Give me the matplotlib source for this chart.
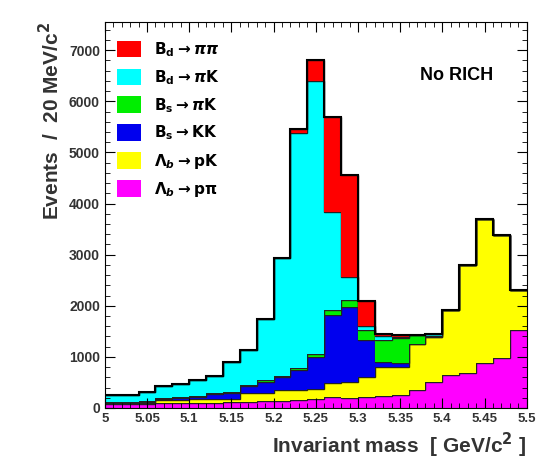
import numpy as np
import matplotlib.pyplot as plt
from matplotlib.ticker import MultipleLocator

plt.rcParams['font.family'] = ['Liberation Sans', 'DejaVu Sans']
plt.rcParams['font.weight'] = 'bold'

edges = np.round(np.arange(5.0, 5.5001, 0.02), 2)

lb_ppi = [80, 80, 80, 90, 90, 100, 100, 110, 120, 130, 140, 150, 170, 220, 200, 220, 230, 250, 350, 515, 650, 680, 880, 980, 1530]
lb_pk = [10, 10, 20, 60, 60, 70, 70, 70, 170, 160, 210, 200, 210, 270, 315, 390, 580, 560, 900, 865, 1270, 2120, 2810, 2410, 770]
bs_kk = [20, 20, 20, 30, 40, 50, 100, 120, 130, 225, 250, 395, 620, 1330, 1465, 720, 95, 60, 0, 0, 0, 0, 0, 0, 0]
bs_pik = [15, 15, 20, 20, 20, 20, 20, 20, 20, 25, 30, 35, 50, 100, 130, 200, 425, 500, 180, 20, 0, 0, 0, 0, 0]
bd_pik = [125, 125, 180, 220, 260, 310, 330, 580, 690, 1210, 2300, 4600, 5350, 1920, 460, 80, 70, 20, 0, 50, 0, 0, 0, 0, 0]
bd_pipi = [0, 0, 0, 0, 0, 0, 0, 0, 0, 0, 0, 70, 400, 1860, 1980, 490, 50, 40, 0, 0, 0, 0, 0, 0, 0]

series = [lb_ppi, lb_pk, bs_kk, bs_pik, bd_pik, bd_pipi]
colors = ['#ff00ff', '#ffff00', '#0000ee', '#00ee00', '#00ffff', '#ff0000']
labels = [r'$\Lambda_b \rightarrow \mathbf{p\pi}$', r'$\Lambda_b \rightarrow \mathbf{pK}$',
          r'$\mathbf{B_s} \rightarrow \mathbf{KK}$', r'$\mathbf{B_s} \rightarrow \pi\mathbf{K}$',
          r'$\mathbf{B_d} \rightarrow \pi\mathbf{K}$', r'$\mathbf{B_d} \rightarrow \pi\pi$']

fig = plt.figure(figsize=(5.43, 4.62), dpi=100)
ax = fig.add_axes([0.193, 0.117, 0.777, 0.835])

base = np.zeros(len(lb_ppi))
handles = []
for vals, c, lab in zip(series, colors, labels):
    top = base + np.array(vals)
    h = ax.stairs(top, edges, baseline=base, fill=True, color=c, label=lab)
    ax.stairs(top, edges, baseline=None, color='#222222', lw=1.0)
    handles.append(h)
    base = top
ax.stairs(base, edges, baseline=None, color='black', lw=1.5)

ax.set_xlim(5.0, 5.5)
ax.set_ylim(0, 7550)
ax.set_xticks(np.round(np.arange(5.0, 5.501, 0.05), 2))
ax.set_xticklabels(['5', '5.05', '5.1', '5.15', '5.2', '5.25', '5.3', '5.35', '5.4', '5.45', '5.5'])
ax.yaxis.set_major_locator(MultipleLocator(1000))
ax.yaxis.set_minor_locator(MultipleLocator(200))
ax.xaxis.set_minor_locator(MultipleLocator(0.01))
ax.tick_params(which='both', direction='in', top=True, right=True, labelsize=10)
ax.tick_params(which='major', length=7)
ax.tick_params(which='minor', length=3.5)
ax.tick_params(axis='x', labelsize=9.5)
for lbl in ax.get_xticklabels() + ax.get_yticklabels():
    lbl.set_fontweight('bold')
    lbl.set_color('#333333')

ax.set_xlabel(r'Invariant mass  [ GeV/c$^{\mathbf{2}}$ ]', fontsize=15, fontweight='bold', loc='right', color='#333333')
ax.set_ylabel(r'Events  /  20 MeV/c$^{\mathbf{2}}$', fontsize=15, fontweight='bold', loc='top', color='#333333')
ax.text(0.92, 0.85, 'No RICH', transform=ax.transAxes, ha='right', fontsize=13, fontweight='bold')

ax.legend(handles[::-1], labels[::-1], loc='upper left', bbox_to_anchor=(0.0, 0.985), frameon=False,
          fontsize=11, handlelength=1.6, handleheight=1.3, labelspacing=0.6, borderpad=0.3)

fig.savefig('out.png', dpi=100)
